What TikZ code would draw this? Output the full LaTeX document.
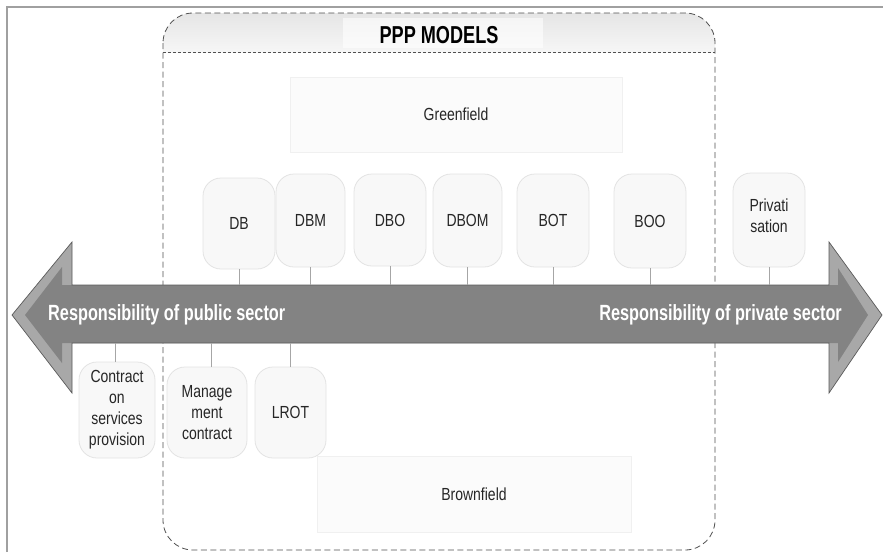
\documentclass[tikz,border=0pt]{standalone}
\usepackage{fontspec}
\setmainfont{Liberation Sans}
\newfontfamily\lblfont[FakeStretch=0.8]{Liberation Sans}
\newfontfamily\heavyfont[FakeStretch=0.74]{Liberation Sans Bold}
\definecolor{bevel}{HTML}{A8A8A8}
\definecolor{arrowbody}{HTML}{838383}
\definecolor{arrowedge}{HTML}{5A5A5A}
\definecolor{boxfill}{HTML}{F8F8F8}
\definecolor{boxline}{HTML}{E3E3E3}
\definecolor{frameline}{HTML}{A0A0A0}
\definecolor{dashline}{HTML}{505050}

\begin{document}
\begin{tikzpicture}[x=1pt,y=-1pt,
  model/.style={rounded corners=18pt, fill=boxfill, draw=boxline, line width=0.8pt,
    font=\lblfont\fontsize{17.5}{21}\selectfont, align=center, inner sep=0pt, text=black!85},
  field/.style={fill=gray!3, draw=gray!12, line width=0.8pt,
    font=\lblfont\fontsize{17.5}{21}\selectfont, text=black!85, inner sep=0pt},
  link/.style={draw=gray!70, line width=0.7pt},
  sector/.style={font=\heavyfont\fontsize{22}{26}\selectfont, text=white, inner sep=0pt},
]
\useasboundingbox (0,0) rectangle (883,552);

% page frame
\draw[frameline, line width=1.2pt] (7,552) -- (7,7) -- (883,7);

% PPP models container with shaded header band
\begin{scope}
  \clip[rounded corners=30pt] (163,13) rectangle (715,550);
  \shade[top color=gray!20, bottom color=gray!7] (163,13) rectangle (715,52);
\end{scope}
\fill[white, opacity=0.6] (343,18) rectangle (543,48);
\draw[dashline, line width=0.9pt, dash pattern=on 3pt off 2pt] (163,52) -- (715,52);
\draw[dashline, line width=0.8pt, dash pattern=on 6pt off 3.5pt, rounded corners=30pt]
  (163,13) rectangle (715,550);
\node[font=\heavyfont\fontsize{24.5}{28}\selectfont, inner sep=0pt] (title) at (439,35) {PPP MODELS};

% double-headed responsibility arrow with bevelled heads
\fill[bevel] (12,315) -- (72,242) -- (72,285) -- (829,285) -- (829,242) -- (882,315)
  -- (829,393) -- (829,343) -- (72,343) -- (72,393) -- cycle;
\fill[arrowbody] (25,315) -- (62,267) -- (62,285) -- (838,285) -- (838,268) -- (868,315)
  -- (838,362) -- (838,343) -- (62,343) -- (62,363) -- cycle;
\draw[arrowedge, line width=0.7pt, line join=miter] (12,315) -- (72,242) -- (72,285) -- (829,285) -- (829,242) -- (882,315)
  -- (829,393) -- (829,343) -- (72,343) -- (72,393) -- cycle;
\coordinate (bodytop) at (0,285);
\coordinate (bodybot) at (0,343);
\node[sector, anchor=west] (pubtxt) at (48,315) {Responsibility of public sector};
\node[sector, anchor=east] (privtxt) at (842,315) {Responsibility of private sector};

% greenfield / brownfield bands
\node[field, minimum width=332pt, minimum height=75pt] (green) at (456,114.5) {Greenfield};
\node[field, minimum width=314pt, minimum height=76pt] (brown) at (474,494) {Brownfield};

% models above the arrow
\node[model, minimum width=72pt, minimum height=91pt] (db)   at (239,223.5) {DB};
\node[model, minimum width=69pt, minimum height=93pt] (dbm)  at (310.5,220.5) {DBM};
\node[model, minimum width=72pt, minimum height=92pt] (dbo)  at (390,220) {DBO};
\node[model, minimum width=69pt, minimum height=93pt] (dbom) at (467.5,220.5) {DBOM};
\node[model, minimum width=72pt, minimum height=93pt] (bot)  at (553,220.5) {BOT};
\node[model, minimum width=72pt, minimum height=94pt] (boo)  at (650,221) {BOO};
\node[model, minimum width=72pt, minimum height=94pt, text depth=9pt] (priv) at (769,220) {Privati\\sation};

% models below the arrow
\node[model, minimum width=76pt, minimum height=96pt] (contract) at (117,410) {Contract\\on\\services\\provision};
\node[model, minimum width=80pt, minimum height=91pt] (manage)   at (207,412.5) {Manage\\ment\\contract};
\node[model, minimum width=71pt, minimum height=91pt] (lrot)     at (290.5,412.5) {LROT};

% connectors to the arrow
\foreach \m in {db,dbm,dbo,dbom,bot,boo,priv}
  \draw[link] (\m.south) -- (\m.south |- bodytop);
\draw[link] ([xshift=-2pt]contract.north) -- ([xshift=-2pt]contract.north |- bodybot);
\draw[link] ([xshift=4pt]manage.north) -- ([xshift=4pt]manage.north |- bodybot);
\draw[link] (lrot.north) -- (lrot.north |- bodybot);
\end{tikzpicture}
\end{document}
